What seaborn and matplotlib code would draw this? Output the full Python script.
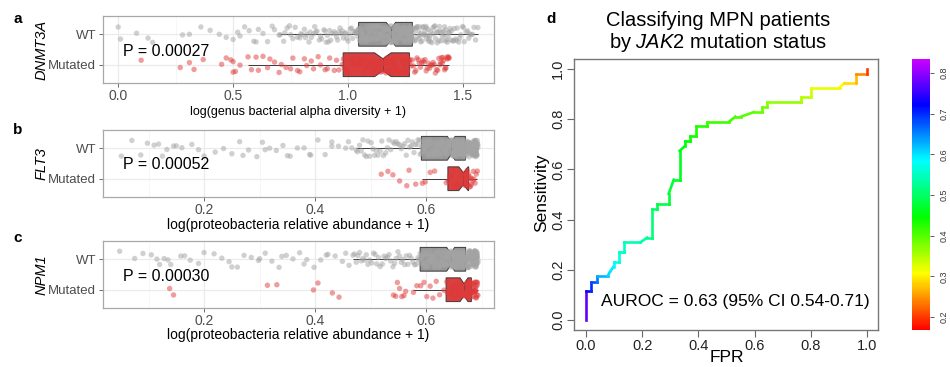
import numpy as np
import pandas as pd
import matplotlib
matplotlib.use("Agg")
import matplotlib.pyplot as plt
import seaborn as sns
from matplotlib.collections import LineCollection
from matplotlib.colors import LinearSegmentedColormap, Normalize
from matplotlib.cm import ScalarMappable

plt.rcParams["font.family"] = ["Liberation Sans", "DejaVu Sans"]
plt.rcParams["mathtext.fontset"] = "custom"
plt.rcParams["mathtext.it"] = "Liberation Sans:italic"
plt.rcParams["mathtext.rm"] = "Liberation Sans"

# ---------------- data ----------------
groups = ["WT", "Mutated"]

# panel a: log(genus bacterial alpha diversity + 1), DNMT3A
a_wt = [0.00, 0.01, 0.08, 0.13, 0.15, 0.28, 0.31, 0.36, 0.40, 0.44, 0.47, 0.50, 0.52, 0.55, 0.57, 0.59, 0.61, 0.63, 0.65, 0.67,
        0.53, 0.60, 0.68,
        0.70, 0.72, 0.735, 0.75, 0.76, 0.78, 0.795, 0.81, 0.82, 0.835, 0.85, 0.86, 0.875, 0.885, 0.90, 0.91, 0.92, 0.93, 0.94, 0.95,
        0.96, 0.97, 0.98, 0.99, 1.00, 1.01, 1.02, 1.03, 1.037, 1.043,
        0.705, 0.725, 0.745, 0.77, 0.79, 0.80, 0.815, 0.83, 0.84, 0.855, 0.865, 0.88, 0.895, 0.905, 0.915, 0.925, 0.945, 0.955,
        0.965, 0.975, 0.985, 0.995, 1.005, 1.015, 1.025, 1.034, 1.04,
        1.047, 1.05, 1.053, 1.056, 1.059, 1.062, 1.065, 1.068, 1.071, 1.074, 1.077, 1.08, 1.083, 1.086, 1.089, 1.092, 1.095, 1.098,
        1.101, 1.104, 1.107, 1.11, 1.113, 1.116, 1.119, 1.122, 1.125, 1.128, 1.131, 1.134, 1.137, 1.14, 1.143, 1.146, 1.149, 1.152,
        1.155, 1.158, 1.161, 1.164, 1.167, 1.17, 1.172, 1.174, 1.176, 1.178, 1.18, 1.182, 1.184, 1.185,
        1.048, 1.051, 1.055, 1.058, 1.063, 1.066, 1.07, 1.073, 1.078, 1.082, 1.087, 1.091, 1.096, 1.1, 1.105, 1.109, 1.114, 1.118,
        1.123, 1.127, 1.132, 1.136, 1.141, 1.145, 1.15, 1.154, 1.159, 1.163, 1.168, 1.175,
        1.188, 1.19, 1.192, 1.194, 1.196, 1.198, 1.2, 1.202, 1.204, 1.206, 1.208, 1.21, 1.212, 1.214, 1.216, 1.218, 1.22, 1.222,
        1.224, 1.226, 1.228, 1.23, 1.232, 1.234, 1.236, 1.238, 1.24, 1.242, 1.244, 1.246, 1.248, 1.25, 1.252, 1.254, 1.256, 1.258,
        1.26, 1.262, 1.264, 1.266, 1.268, 1.27, 1.271, 1.272, 1.273, 1.274, 1.275, 1.276, 1.277, 1.279,
        1.189, 1.193, 1.197, 1.201, 1.205, 1.209, 1.213, 1.217, 1.221, 1.225, 1.229, 1.233, 1.237, 1.241, 1.245, 1.249, 1.253,
        1.257, 1.261, 1.263, 1.265, 1.267, 1.269, 1.27, 1.272, 1.273, 1.275, 1.276, 1.277, 1.278,
        1.282, 1.286, 1.29, 1.294, 1.298, 1.302, 1.306, 1.31, 1.314, 1.318, 1.322, 1.326, 1.33, 1.334, 1.338, 1.342, 1.346, 1.35,
        1.355, 1.36, 1.365, 1.37, 1.375, 1.38, 1.385, 1.39, 1.395, 1.40, 1.405, 1.41, 1.415, 1.42, 1.426, 1.432, 1.438, 1.444,
        1.45, 1.456, 1.462, 1.468, 1.475, 1.482, 1.49, 1.498, 1.506, 1.515, 1.525, 1.535, 1.548, 1.565,
        1.284, 1.292, 1.3, 1.308, 1.316, 1.324, 1.332, 1.34, 1.348, 1.353, 1.358, 1.368, 1.378, 1.388, 1.398, 1.408, 1.418,
        1.423, 1.429, 1.435, 1.441, 1.447, 1.459, 1.472, 1.486, 1.502, 1.52, 1.53, 1.542, 1.555]
a_mut = [0.10, 0.27, 0.31, 0.33, 0.37, 0.45, 0.47, 0.49, 0.50, 0.50, 0.51, 0.53,
         0.565, 0.58, 0.60, 0.61, 0.63, 0.65, 0.66, 0.68, 0.70, 0.71, 0.73, 0.75, 0.76, 0.78, 0.79, 0.81, 0.82, 0.84, 0.85, 0.87,
         0.88, 0.90, 0.91, 0.92, 0.94, 0.95, 0.96, 0.975,
         0.98, 0.985, 0.99, 0.995, 1.00, 1.01, 1.015, 1.02, 1.025, 1.03, 1.035, 1.04, 1.045, 1.05, 1.055, 1.06, 1.065, 1.07,
         1.075, 1.08, 1.085, 1.09, 1.095, 1.10, 1.105, 1.11, 1.113, 1.117, 1.12, 1.123, 1.127, 1.13, 1.133, 1.137, 1.14, 1.142,
         1.144, 1.146, 1.148, 1.150,
         1.153, 1.156, 1.159, 1.162, 1.165, 1.168, 1.171, 1.174, 1.177, 1.180, 1.183, 1.186, 1.189, 1.192, 1.195, 1.198, 1.201,
         1.204, 1.207, 1.210, 1.213, 1.216, 1.219, 1.222, 1.225, 1.228, 1.231, 1.234, 1.237, 1.240, 1.243, 1.246, 1.249, 1.252,
         1.255, 1.258, 1.260, 1.262, 1.264, 1.266,
         1.27, 1.275, 1.28, 1.285, 1.29, 1.295, 1.30, 1.305, 1.31, 1.315, 1.32, 1.325, 1.33, 1.335, 1.34, 1.345, 1.35, 1.355,
         1.36, 1.365, 1.37, 1.375, 1.38, 1.385, 1.39, 1.395, 1.40, 1.403, 1.406, 1.41, 1.413, 1.416, 1.42, 1.423, 1.426, 1.43,
         1.432, 1.435, 1.438, 1.44]

# panel b: log(proteobacteria relative abundance + 1), FLT3
b_wt = [0.051, 0.086, 0.098, 0.118, 0.125, 0.133, 0.145, 0.16, 0.178, 0.19, 0.22, 0.235, 0.25, 0.264, 0.28, 0.295, 0.305,
        0.318, 0.33, 0.342, 0.355, 0.368, 0.38, 0.392, 0.405, 0.418, 0.43, 0.442, 0.455, 0.466,
        0.07, 0.11, 0.15, 0.2, 0.27, 0.31, 0.35, 0.39, 0.43, 0.46,
        0.474, 0.48, 0.486, 0.492, 0.498, 0.504, 0.51, 0.517, 0.523, 0.53, 0.536, 0.543, 0.549, 0.555, 0.561, 0.567, 0.573,
        0.578, 0.584, 0.589,
        0.476, 0.483, 0.489, 0.495, 0.501, 0.507, 0.513, 0.52, 0.527, 0.533, 0.54, 0.546, 0.552, 0.558, 0.564, 0.57, 0.575,
        0.58, 0.585, 0.588,
        0.592, 0.593, 0.594, 0.595, 0.596, 0.597, 0.598, 0.599, 0.6, 0.601, 0.602, 0.603, 0.604, 0.605, 0.606, 0.607, 0.608,
        0.609, 0.61, 0.611, 0.612, 0.613, 0.614, 0.615, 0.616, 0.617, 0.618, 0.619, 0.62, 0.621, 0.622, 0.623, 0.624, 0.625,
        0.626, 0.627, 0.628, 0.629, 0.630, 0.631, 0.633, 0.634, 0.635, 0.636, 0.637, 0.638, 0.64, 0.641, 0.642, 0.644,
        0.592, 0.594, 0.596, 0.598, 0.6, 0.602, 0.604, 0.606, 0.608, 0.61, 0.612, 0.614, 0.616, 0.618, 0.62, 0.622, 0.624,
        0.626, 0.628, 0.63, 0.632, 0.634, 0.635, 0.636, 0.637, 0.638, 0.639, 0.64, 0.641, 0.643,
        0.646, 0.646, 0.647, 0.647, 0.648, 0.648, 0.649, 0.649, 0.65, 0.65, 0.651, 0.651, 0.652, 0.652, 0.653, 0.653, 0.654,
        0.654, 0.655, 0.655, 0.656, 0.656, 0.657, 0.657, 0.658, 0.658, 0.659, 0.659, 0.66, 0.66, 0.661, 0.661, 0.662, 0.662,
        0.663, 0.663, 0.664, 0.664, 0.665, 0.665, 0.666, 0.666, 0.667, 0.667, 0.668, 0.668, 0.669, 0.669, 0.67, 0.67,
        0.646, 0.647, 0.648, 0.649, 0.65, 0.651, 0.652, 0.653, 0.654, 0.655, 0.656, 0.657, 0.658, 0.659, 0.66, 0.661, 0.662,
        0.663, 0.664, 0.665, 0.666, 0.667, 0.668, 0.669, 0.67, 0.655, 0.66, 0.665, 0.652, 0.648,
        0.672, 0.672, 0.673, 0.673, 0.674, 0.674, 0.675, 0.675, 0.676, 0.676, 0.677, 0.677, 0.678, 0.678, 0.679, 0.679, 0.68,
        0.68, 0.681, 0.681, 0.682, 0.682, 0.683, 0.683, 0.684, 0.684, 0.685, 0.685, 0.686, 0.686, 0.687, 0.687, 0.688, 0.688,
        0.688, 0.689, 0.689, 0.689, 0.689, 0.69, 0.69, 0.69, 0.69, 0.69, 0.691, 0.691, 0.691, 0.692, 0.692, 0.693,
        0.672, 0.673, 0.674, 0.675, 0.676, 0.677, 0.678, 0.679, 0.68, 0.681, 0.682, 0.683, 0.684, 0.685, 0.686, 0.687, 0.688,
        0.689, 0.69, 0.691, 0.685, 0.688, 0.69, 0.692, 0.68, 0.684, 0.687, 0.689, 0.691, 0.693]
b_mut = [0.519, 0.531, 0.540, 0.552, 0.565, 0.569, 0.581,
         0.593, 0.598, 0.607, 0.615, 0.636,
         0.640, 0.642, 0.645, 0.648, 0.65, 0.652, 0.655, 0.657, 0.66, 0.662, 0.664, 0.666,
         0.668, 0.669, 0.669, 0.67, 0.671, 0.671, 0.672, 0.673, 0.674, 0.674, 0.675, 0.676,
         0.677, 0.678, 0.679, 0.68, 0.681, 0.682, 0.684, 0.685, 0.686, 0.688, 0.69, 0.692]

# panel c: log(proteobacteria relative abundance + 1), NPM1
c_wt = [0.048, 0.09, 0.105, 0.12, 0.128, 0.135, 0.158, 0.165, 0.175, 0.19, 0.218, 0.232, 0.245, 0.26, 0.272, 0.285, 0.298,
        0.31, 0.322, 0.335, 0.348, 0.36, 0.372, 0.385, 0.398, 0.41, 0.423, 0.436, 0.449, 0.461,
        0.075, 0.115, 0.14, 0.2, 0.25, 0.3, 0.34, 0.38, 0.42, 0.455,
        0.468, 0.474, 0.48, 0.486, 0.492, 0.498, 0.505, 0.511, 0.517, 0.524, 0.53, 0.536, 0.543, 0.549, 0.555, 0.561, 0.567,
        0.573, 0.579, 0.586,
        0.471, 0.477, 0.483, 0.489, 0.495, 0.502, 0.508, 0.514, 0.521, 0.527, 0.533, 0.54, 0.546, 0.552, 0.558, 0.564, 0.57,
        0.576, 0.582, 0.585,
        0.589, 0.59, 0.591, 0.592, 0.593, 0.594, 0.595, 0.596, 0.597, 0.598, 0.6, 0.601, 0.602, 0.603, 0.604, 0.605, 0.606,
        0.607, 0.608, 0.609, 0.61, 0.611, 0.612, 0.613, 0.614, 0.615, 0.616, 0.617, 0.618, 0.619, 0.62, 0.622, 0.623, 0.624,
        0.625, 0.626, 0.627, 0.628, 0.629, 0.63, 0.631, 0.632, 0.633, 0.634, 0.635, 0.636, 0.638, 0.639, 0.64, 0.642,
        0.589, 0.591, 0.593, 0.595, 0.597, 0.599, 0.601, 0.603, 0.605, 0.607, 0.609, 0.611, 0.613, 0.615, 0.617, 0.619, 0.621,
        0.623, 0.625, 0.627, 0.629, 0.631, 0.633, 0.634, 0.635, 0.636, 0.637, 0.638, 0.64, 0.641,
        0.644, 0.644, 0.645, 0.645, 0.646, 0.646, 0.647, 0.647, 0.648, 0.648, 0.649, 0.649, 0.65, 0.65, 0.651, 0.651, 0.652,
        0.652, 0.653, 0.653, 0.654, 0.654, 0.655, 0.655, 0.656, 0.656, 0.657, 0.657, 0.658, 0.658, 0.659, 0.659, 0.66, 0.66,
        0.661, 0.661, 0.662, 0.662, 0.663, 0.663, 0.664, 0.664, 0.665, 0.665, 0.666, 0.666, 0.667, 0.667, 0.668, 0.668,
        0.644, 0.645, 0.646, 0.647, 0.648, 0.649, 0.65, 0.651, 0.652, 0.653, 0.654, 0.655, 0.656, 0.657, 0.658, 0.659, 0.66,
        0.661, 0.662, 0.663, 0.664, 0.665, 0.666, 0.667, 0.668, 0.65, 0.655, 0.66, 0.664, 0.667,
        0.671, 0.671, 0.672, 0.672, 0.673, 0.673, 0.674, 0.674, 0.675, 0.675, 0.676, 0.676, 0.677, 0.677, 0.678, 0.678, 0.679,
        0.679, 0.68, 0.68, 0.681, 0.681, 0.682, 0.682, 0.683, 0.683, 0.684, 0.684, 0.685, 0.685, 0.686, 0.686, 0.687, 0.687,
        0.688, 0.688, 0.688, 0.689, 0.689, 0.689, 0.689, 0.69, 0.69, 0.69, 0.69, 0.69, 0.691, 0.691, 0.691, 0.692, 0.692, 0.693,
        0.671, 0.673, 0.674, 0.675, 0.676, 0.677, 0.678, 0.679, 0.68, 0.681, 0.682, 0.683, 0.684, 0.685, 0.686, 0.687, 0.688,
        0.689, 0.69, 0.691, 0.685, 0.688, 0.69, 0.692, 0.68, 0.684, 0.687, 0.689, 0.691, 0.693]
c_mut = [0.138, 0.145, 0.314, 0.331, 0.397, 0.405, 0.431, 0.443, 0.541, 0.545, 0.548, 0.552, 0.556, 0.56, 0.563,
         0.577, 0.583, 0.59, 0.596, 0.601, 0.607, 0.612, 0.618, 0.624, 0.632,
         0.637, 0.638, 0.64, 0.641, 0.642, 0.644, 0.645, 0.646, 0.648, 0.649, 0.65, 0.652, 0.653, 0.654, 0.656, 0.657, 0.658,
         0.659, 0.66, 0.661, 0.662, 0.663, 0.664, 0.666, 0.667,
         0.669, 0.669, 0.67, 0.67, 0.671, 0.671, 0.672, 0.672, 0.673, 0.673, 0.674, 0.674, 0.675, 0.675, 0.676, 0.676, 0.677,
         0.677, 0.678, 0.678, 0.679, 0.679, 0.68, 0.68, 0.681,
         0.682, 0.682, 0.683, 0.683, 0.684, 0.684, 0.685, 0.685, 0.686, 0.686, 0.687, 0.687, 0.688, 0.688, 0.689, 0.689, 0.689,
         0.69, 0.69, 0.69, 0.691, 0.691, 0.692, 0.692, 0.693]

p_values = ["P = 0.00027", "P = 0.00052", "P = 0.00030"]
genes = ["DNMT3A", "FLT3", "NPM1"]
x_labels = ["log(genus bacterial alpha diversity + 1)",
            "log(proteobacteria relative abundance + 1)",
            "log(proteobacteria relative abundance + 1)"]

# panel d: ROC curve (FPR, sensitivity) with cutoff used for colour
roc_fpr = [0.0, 0.0, 0.018, 0.018, 0.039, 0.039, 0.077, 0.086, 0.098, 0.098, 0.116, 0.116, 0.136, 0.136, 0.193, 0.217,
           0.235, 0.235, 0.252, 0.252, 0.294, 0.294, 0.312, 0.333, 0.333, 0.353, 0.353, 0.371, 0.371, 0.391, 0.391, 0.432,
           0.432, 0.509, 0.531, 0.551, 0.596, 0.626, 0.626, 0.643, 0.643, 0.765, 0.765, 0.801, 0.801, 0.902, 0.919, 0.959,
           0.959, 1.0, 1.0]
roc_tpr = [0.0, 0.116, 0.116, 0.153, 0.153, 0.176, 0.176, 0.193, 0.213, 0.230, 0.230, 0.270, 0.270, 0.309, 0.309, 0.328,
           0.328, 0.443, 0.443, 0.463, 0.463, 0.503, 0.559, 0.559, 0.674, 0.694, 0.713, 0.713, 0.733, 0.733, 0.771, 0.771,
           0.790, 0.790, 0.810, 0.810, 0.828, 0.828, 0.847, 0.847, 0.867, 0.867, 0.887, 0.887, 0.926, 0.926, 0.943, 0.943,
           0.981, 0.981, 1.0]
roc_cut = [0.83, 0.72, 0.71, 0.69, 0.67, 0.64, 0.61, 0.60, 0.59, 0.58, 0.57, 0.56, 0.555, 0.55, 0.54, 0.53, 0.52, 0.50,
           0.495, 0.49, 0.48, 0.475, 0.47, 0.465, 0.46, 0.455, 0.45, 0.445, 0.44, 0.435, 0.43, 0.425, 0.42, 0.41, 0.405,
           0.40, 0.395, 0.39, 0.385, 0.38, 0.375, 0.36, 0.35, 0.34, 0.33, 0.31, 0.30, 0.28, 0.26, 0.23, 0.17]
roc_ticks = [0.0, 0.2, 0.4, 0.6, 0.8, 1.0]
cbar_ticks = [0.2, 0.3, 0.4, 0.5, 0.6, 0.7, 0.8]

# ---------------- figure ----------------
W, H = 950, 367
fig = plt.figure(figsize=(W / 100, H / 100), dpi=100)


def rect(x0, y0, x1, y1):
    return [x0 / W, 1 - y1 / H, (x1 - x0) / W, (y1 - y0) / H]


box_pal = {"WT": "#979797", "Mutated": "#D9403F"}
pt_pal = {"WT": "#A3A3A3", "Mutated": "#DE3A3A"}

np.random.seed(7)
panels = [
    (a_wt, a_mut, (16, 83), (-0.066, 1.635), [0, 0.5, 1.0, 1.5], [0.25, 0.75, 1.25], ["0.0", "0.5", "1.0", "1.5"]),
    (b_wt, b_mut, (130, 197), (0.018, 0.722), [0.2, 0.4, 0.6], [0.1, 0.3, 0.5, 0.7], ["0.2", "0.4", "0.6"]),
    (c_wt, c_mut, (241, 308), (0.018, 0.722), [0.2, 0.4, 0.6], [0.1, 0.3, 0.5, 0.7], ["0.2", "0.4", "0.6"]),
]
letters = ["a", "b", "c"]
letter_y = [19, 130, 238]
xlabel_size = [9.0, 10.0, 10.0]
xlabel_pad = [2, 0.5, 0.0]

for i, (wt, mut, (y0, y1), xlim, major, minor, tlabels) in enumerate(panels):
    ax = fig.add_axes(rect(103, y0, 494, y1))
    df = pd.DataFrame({"value": wt + mut,
                       "status": ["WT"] * len(wt) + ["Mutated"] * len(mut)})
    sns.boxplot(data=df, x="value", y="status", hue="status", order=groups, hue_order=groups,
                palette=box_pal, saturation=1, width=0.78, notch=True, showfliers=False,
                showcaps=False, linecolor="#3A3A3A", linewidth=0.7, legend=False, ax=ax)
    sns.stripplot(data=df, x="value", y="status", hue="status", order=groups, hue_order=groups,
                  palette=pt_pal, jitter=0.28, size=3.9, alpha=0.5, linewidth=0, legend=False,
                  zorder=3, ax=ax)
    ax.set_xlim(*xlim)
    ax.set_ylim(1.6, -0.6)
    ax.set_xticks(major)
    ax.set_xticklabels(tlabels)
    ax.set_xticks(minor, minor=True)
    ax.set_axisbelow(True)
    ax.grid(True, which="major", color="#EBEBEB", linewidth=0.9)
    ax.grid(True, which="minor", axis="x", color="#F4F4F4", linewidth=0.5)
    for s in ax.spines.values():
        s.set_color("#A8A8A8")
        s.set_linewidth(0.9)
    ax.tick_params(which="minor", length=0)
    ax.tick_params(axis="x", which="major", length=3, width=0.6, color="#555555",
                   labelcolor="#4D4D4D", labelsize=10, pad=1.5)
    ax.tick_params(axis="y", which="major", length=3, width=0.6, color="#555555",
                   labelcolor="#4D4D4D", labelsize=9.5, pad=2)
    ax.set_ylabel("")
    ax.set_xlabel(x_labels[i], fontsize=xlabel_size[i], color="black", labelpad=xlabel_pad[i])
    ax.text(0.051, 0.47 if i != 1 else 0.49, p_values[i], transform=ax.transAxes,
            ha="left", va="center", fontsize=11.5)
    fig.text(42 / W, 1 - (y0 + y1) / 2 / H, genes[i], rotation=90, style="italic",
             ha="center", va="center", fontsize=10.5)
    fig.text(18 / W, 1 - letter_y[i] / H, letters[i], fontweight="bold",
             ha="center", va="center", fontsize=11)

# ---- panel d ----
rainbow = LinearSegmentedColormap.from_list(
    "rrainbow",
    [(0.0, "#FF0000"), (1 / 6 / 0.8, "#FFFF00"), (1 / 3 / 0.8, "#00FF00"),
     (0.5 / 0.8, "#00FFFF"), (2 / 3 / 0.8, "#0000FF"), (1.0, "#CC00FF")])
norm = Normalize(0.168, 0.834)

axd = fig.add_axes(rect(574, 59, 878, 330))
pts = np.column_stack([roc_fpr, roc_tpr])
segs = np.stack([pts[:-1], pts[1:]], axis=1)
cut = np.asarray(roc_cut)
seg_cols = rainbow(norm((cut[:-1] + cut[1:]) / 2))
axd.add_collection(LineCollection(segs, colors=seg_cols, linewidths=1.9, capstyle="projecting",
                                  joinstyle="miter"))
axd.set_xlim(-0.043, 1.039)
axd.set_ylim(-0.04, 1.04)
axd.set_xticks(roc_ticks)
axd.set_xticklabels([f"{t:.1f}" for t in roc_ticks])
axd.set_yticks(roc_ticks)
axd.set_yticklabels([f"{t:.1f}" for t in roc_ticks], rotation=90, va="center")
axd.tick_params(length=5, width=0.8, color="#666666", labelsize=10.5, labelcolor="#222222", pad=1.5)
for s in axd.spines.values():
    s.set_color("#777777")
    s.set_linewidth(1.0)
axd.text(0.053, 0.072, "AUROC = 0.63 (95% CI 0.54-0.71)", ha="left", va="center", fontsize=12.5)

fig.text(718 / W, 1 - 20 / H, "Classifying MPN patients", ha="center", va="center", fontsize=14.5)
fig.text(718 / W, 1 - 43 / H, r"by $\mathit{JAK2}$ mutation status", ha="center", va="center", fontsize=14.5)
fig.text(542 / W, 1 - 193 / H, "Sensitivity", rotation=90, ha="center", va="center", fontsize=12.5)
fig.text(727 / W, 1 - 358 / H, "FPR", ha="center", va="center", fontsize=12.5)
fig.text(551 / W, 1 - 19 / H, "d", fontweight="bold", ha="center", va="center", fontsize=11)

cax = fig.add_axes(rect(912, 59, 930, 330))
cb = fig.colorbar(ScalarMappable(norm=norm, cmap=rainbow), cax=cax)
cb.outline.set_visible(False)
cb.set_ticks(cbar_ticks)
cax.set_yticklabels([f"{t:.1f}" for t in cbar_ticks], rotation=90, va="center")
cax.tick_params(length=3, width=0.6, color="#444444", labelsize=6.5, labelcolor="#333333", pad=4)

fig.savefig("out.png", dpi=100)
